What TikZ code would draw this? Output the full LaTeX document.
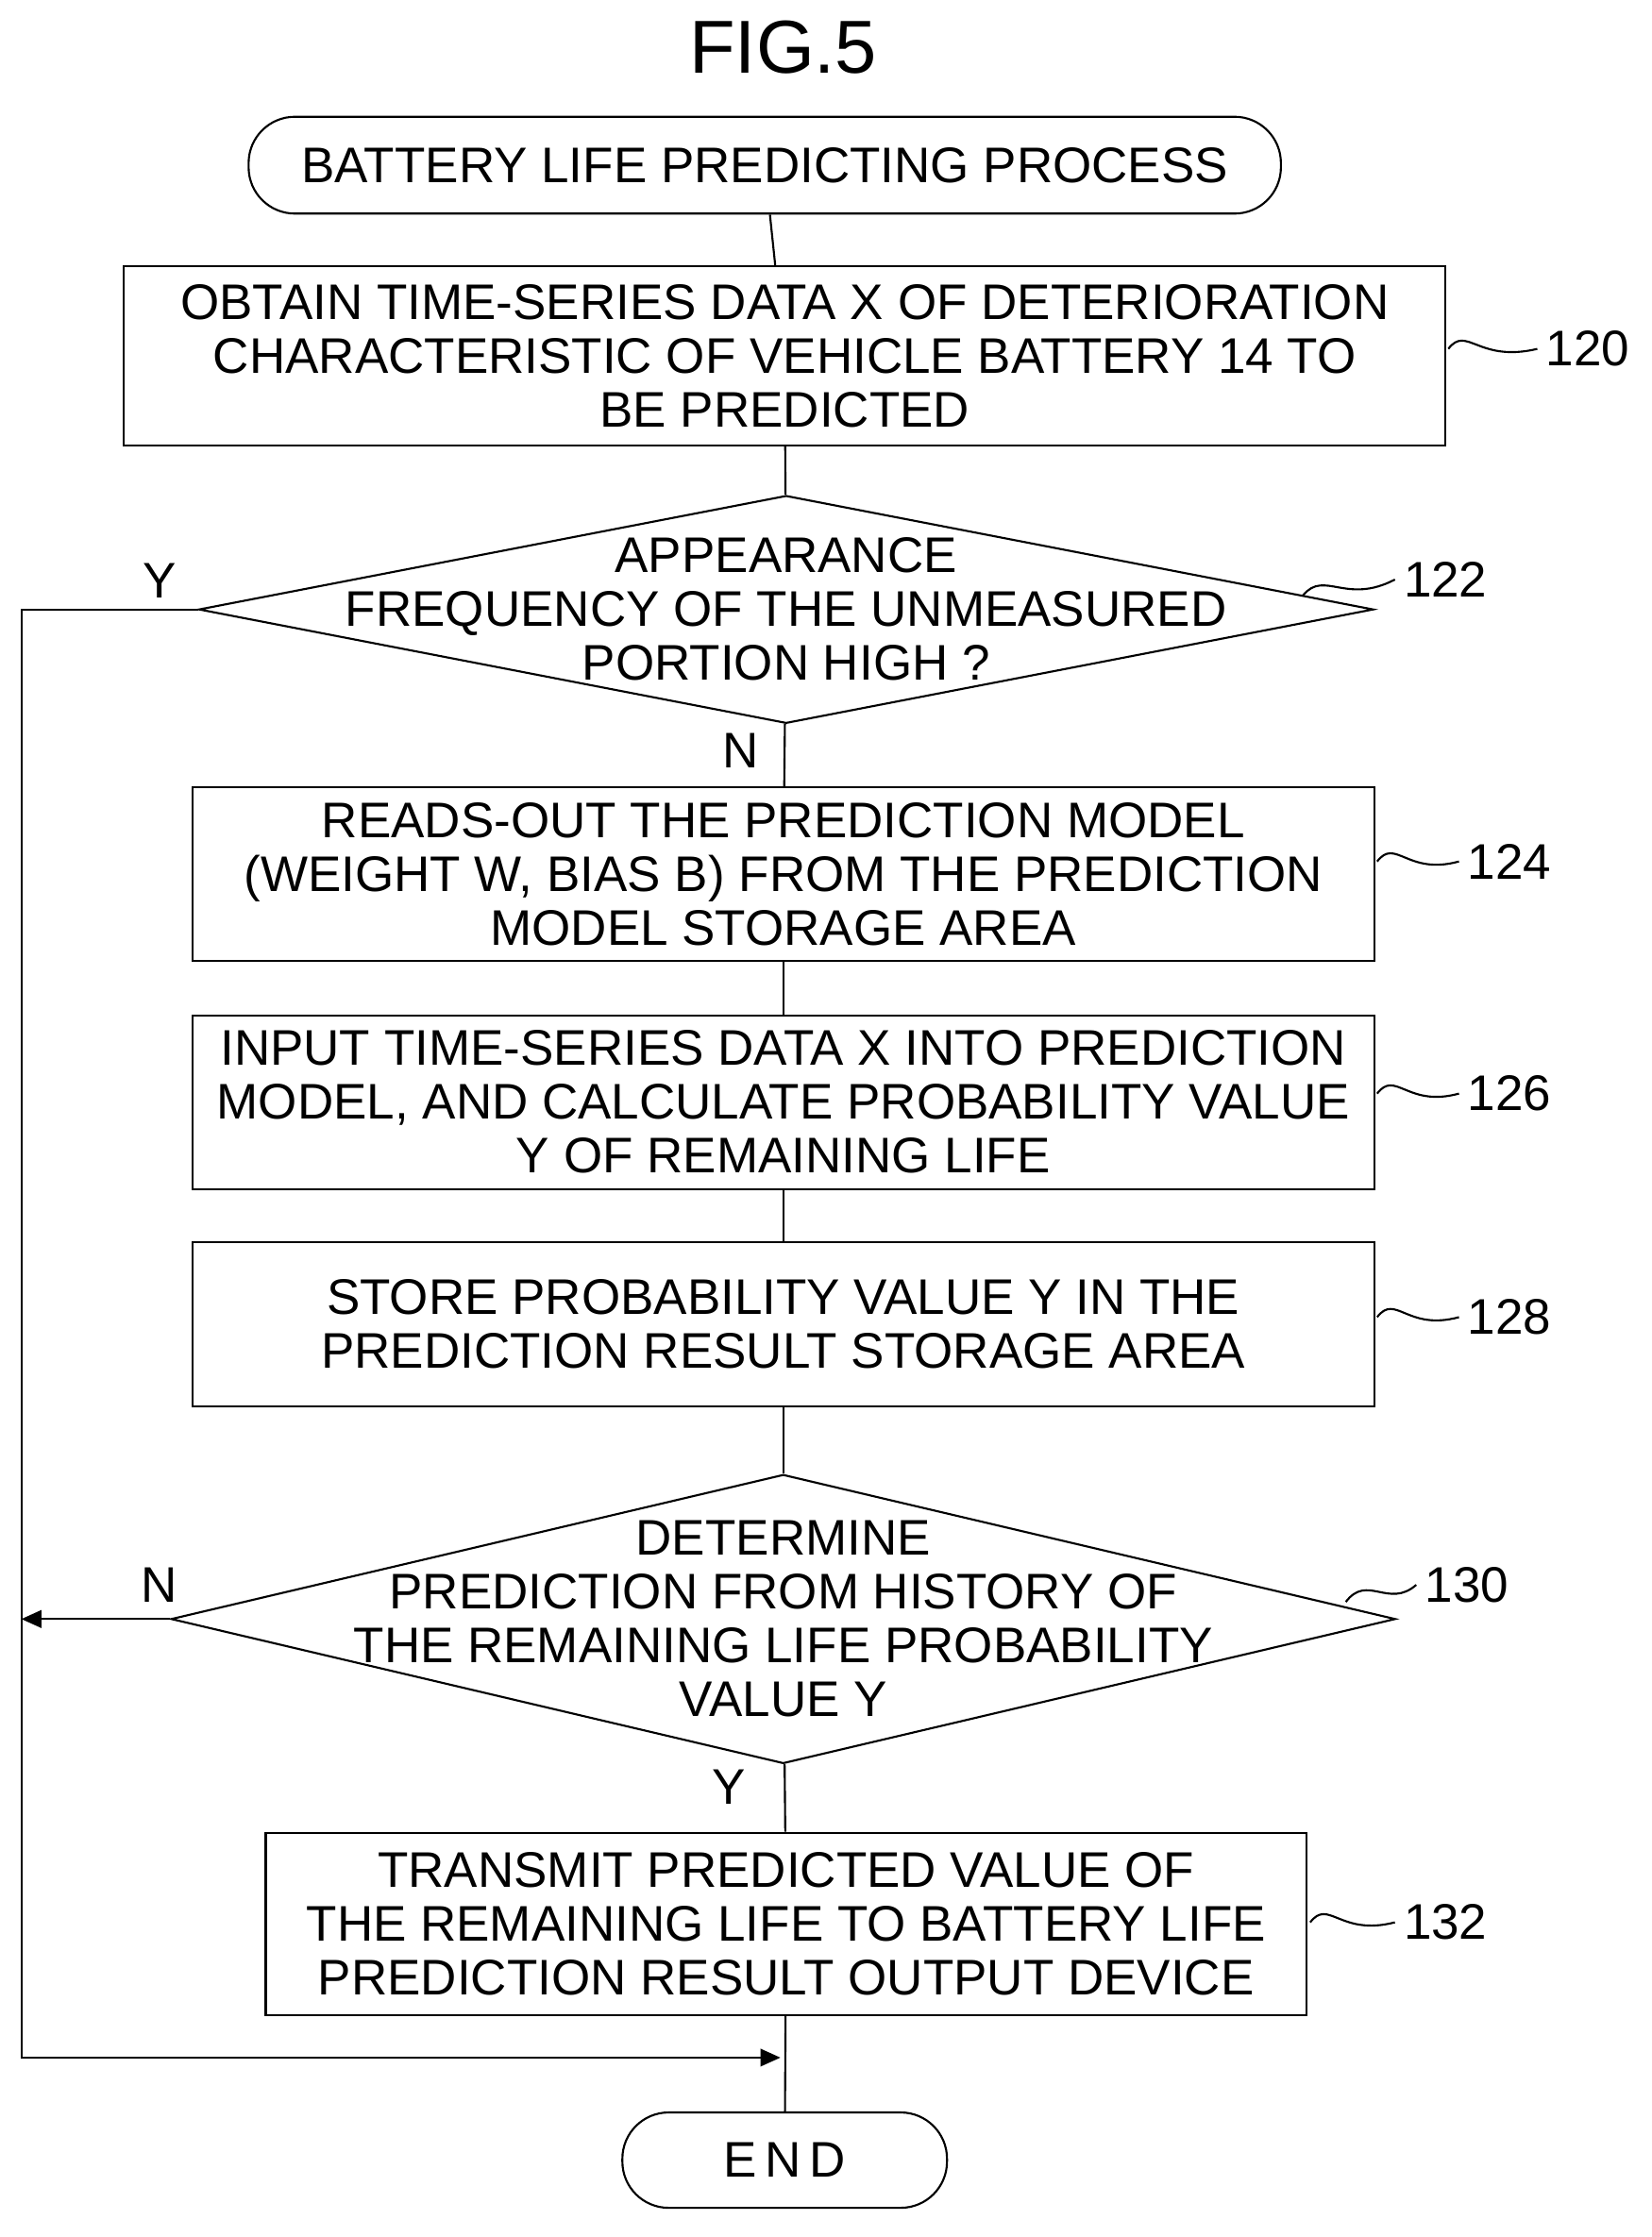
\documentclass[tikz,border=0pt]{standalone}
\usepackage{fontspec}
\setmainfont{Liberation Sans}
\usetikzlibrary{shapes.geometric,arrows.meta}
\begin{document}
\begin{tikzpicture}[x=0.02cm,y=-0.02cm,
  every node/.style={font=\fontsize{20}{21.5}\selectfont},
  box/.style={draw,line width=0.8pt,inner sep=0},
  dia/.style={draw,line width=0.8pt,diamond,inner sep=0},
  term/.style={draw,line width=0.8pt,rounded corners=0.65cm,inner sep=0},
  txt/.style={align=center,inner sep=0},
  ln/.style={line width=0.8pt},
  arr/.style={line width=0.8pt,-{Triangle[length=8pt,width=7pt]}}]
\useasboundingbox (0,0) rectangle (1160,1571);
\node[font=\fontsize{30}{32}\selectfont] (fig) at (550,33) {FIG.5};
\node[term,minimum width=14.5cm,minimum height=1.36cm] (start) at (537,116) {BATTERY LIFE PREDICTING PROCESS};
\node[box,minimum width=18.56cm,minimum height=2.52cm,align=center] (b120) at (551,250) {OBTAIN TIME-SERIES DATA X OF DETERIORATION\\CHARACTERISTIC OF VEHICLE BATTERY 14 TO\\BE PREDICTED};
\node[dia,minimum width=16.5cm,minimum height=3.2cm] (d122) at (552,428) {};
\node[txt] (t122) at (552,428) {APPEARANCE\\FREQUENCY OF THE UNMEASURED\\PORTION HIGH ?};
\node[box,minimum width=16.6cm,minimum height=2.44cm,align=center] (b124) at (550,614) {READS-OUT THE PREDICTION MODEL\\(WEIGHT W, BIAS B) FROM THE PREDICTION\\MODEL STORAGE AREA};
\node[box,minimum width=16.6cm,minimum height=2.44cm,align=center] (b126) at (550,774) {INPUT TIME-SERIES DATA X INTO PREDICTION\\MODEL, AND CALCULATE PROBABILITY VALUE\\Y OF REMAINING LIFE};
\node[box,minimum width=16.6cm,minimum height=2.3cm,align=center] (b128) at (550,930) {STORE PROBABILITY VALUE Y IN THE\\PREDICTION RESULT STORAGE AREA};
\node[dia,minimum width=17.2cm,minimum height=4.06cm] (d130) at (550,1137) {};
\node[txt] (t130) at (550,1137) {DETERMINE\\PREDICTION FROM HISTORY OF\\THE REMAINING LIFE PROBABILITY\\VALUE Y};
\node[box,minimum width=14.62cm,minimum height=2.56cm,align=center] (b132) at (552,1351) {TRANSMIT PREDICTED VALUE OF\\THE REMAINING LIFE TO BATTERY LIFE\\PREDICTION RESULT OUTPUT DEVICE};
\node[term,minimum width=4.56cm,minimum height=1.34cm] (end) at (551,1517) {E\,N\,D};
% labels
\node (l120) at (1115,245) {120};
\node (l122) at (1015,407) {122};
\node (l124) at (1060,605) {124};
\node (l126) at (1060,768) {126};
\node (l128) at (1060,925) {128};
\node (l130) at (1030,1113) {130};
\node (l132) at (1015,1350) {132};
\node (y1) at (112,408) {Y};
\node (n1) at (520,527) {N};
\node (n2) at (112,1113) {N};
\node (y2) at (512,1255) {Y};
% squiggles
\draw[ln] (1017,245) .. controls (1030,228) and (1038,255) .. (l120.west);
\draw[ln] (915,418) .. controls (930,400) and (945,425) .. (l122.west);
\draw[ln] (967,605) .. controls (980,588) and (988,615) .. (l124.west);
\draw[ln] (967,768) .. controls (980,751) and (988,778) .. (l126.west);
\draw[ln] (967,925) .. controls (980,908) and (988,935) .. (l128.west);
\draw[ln] (945,1125) .. controls (960,1105) and (975,1130) .. (l130.west);
\draw[ln] (920,1350) .. controls (933,1333) and (941,1360) .. (l132.west);
% flow
\coordinate (c1) at (15,428);
\coordinate (c2) at (15,1445);
\coordinate (c3) at (548,1445);
\coordinate (c4) at (15,1137);
\draw[ln] (start) -- (b120);
\draw[ln] (b120) -- (d122);
\draw[ln] (d122) -- (b124);
\draw[ln] (b124) -- (b126);
\draw[ln] (b126) -- (b128);
\draw[ln] (b128) -- (d130);
\draw[ln] (d130) -- (b132);
\draw[ln] (b132) -- (end);
\draw[arr] (d122.west) -- (c1) -- (c2) -- (c3);
\draw[arr] (d130.west) -- (c4);
\end{tikzpicture}
\end{document}
